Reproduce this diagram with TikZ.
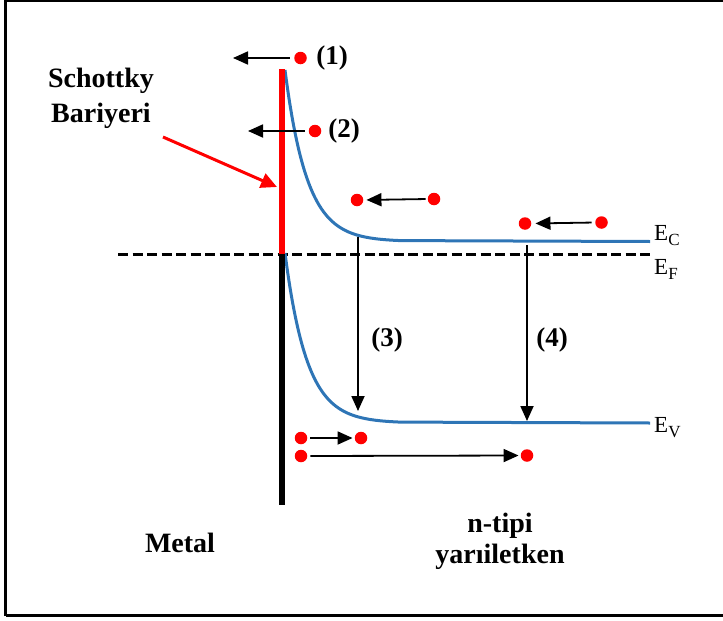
\documentclass[tikz,border=0pt]{standalone}
\usepackage{fontspec}
\setmainfont{Liberation Serif}
\usetikzlibrary{arrows.meta}
\definecolor{bandblue}{RGB}{46,117,182}
\begin{document}
\begin{tikzpicture}[x=1pt,y=-1pt,
  dot/.style={circle,fill=red,inner sep=0pt,minimum size=12.5pt},
  arr/.style={line width=1.8pt,-{Triangle[length=15pt,width=13pt]}},
  redarr/.style={red,line width=3pt,-{Triangle[length=16pt,width=15pt]}},
  band/.style={bandblue,line width=3pt},
  lbl/.style={font=\fontsize{27}{32}\selectfont\bfseries,inner sep=0pt},
  big/.style={font=\fontsize{28}{34}\selectfont\bfseries,inner sep=0pt,anchor=base},
  elab/.style={font=\fontsize{23}{26}\selectfont,inner sep=0pt,anchor=base west},
  sub/.style={}]
\useasboundingbox (0,0) rectangle (723,621);
% frame
\draw[line width=2.5pt] (5.5,616) -- (5.5,1) -- (723,1);
\draw[line width=2.5pt] (5.5,615.5) -- (723,615.5);
% Fermi level
\draw[line width=3pt,dash pattern=on 10pt off 4.5pt] (118,254) -- (650,254);
% bands
\draw[band] plot[domain=0:115,samples=90] ({285+\x},{241.5-171.5*exp(-\x/22)}) -- (650,241.5);
\draw[band] plot[domain=0:115,samples=90] ({285+\x},{423-170*exp(-\x/22)}) -- (650,423);
% interface bar
\draw[red,line width=6.5pt] (282,69) -- (282,254);
\draw[line width=6.5pt] (282,254) -- (282,505);
% band labels
\node[elab] (ec) at (654,240) {E\raisebox{-5pt}{\fontsize{17}{17}\selectfont C}};
\node[elab] (ef) at (654,274) {E\raisebox{-5pt}{\fontsize{17}{17}\selectfont F}};
\node[elab] (ev) at (654,432) {E\raisebox{-5pt}{\fontsize{17}{17}\selectfont V}};
% electrons
\node[dot] (d1) at (300.5,58) {};
\node[dot] (d2) at (315,131) {};
\node[dot] (d3) at (357,200) {};
\node[dot] (d4) at (434,199) {};
\node[dot] (d5) at (525,223.5) {};
\node[dot] (d6) at (601.5,222.5) {};
\node[dot] (d7) at (301,438) {};
\node[dot] (d8) at (361,438) {};
\node[dot] (d9) at (301,456) {};
\node[dot] (d10) at (527,455.5) {};
\coordinate (t1) at (233,58);
\coordinate (t2) at (248,131);
% horizontal arrows
\draw[arr,shorten <=4.5pt] (d1.west) -- (t1);
\draw[arr,shorten <=4pt] (d2.west) -- (t2);
\draw[arr,shorten <=2pt,shorten >=3pt] (d4.west) -- (d3.east);
\draw[arr,shorten <=3.5pt,shorten >=4pt] (d6.west) -- (d5.east);
\draw[arr,shorten <=3pt,shorten >=2pt] (d7.east) -- (d8.west);
\draw[arr,shorten <=3pt,shorten >=2pt] (d9.east) -- (d10.west);
% vertical arrows
\coordinate (v3a) at (358,237);
\coordinate (v3b) at (358,411);
\coordinate (v4a) at (527,245);
\coordinate (v4b) at (527,421);
\draw[arr] (v3a) -- (v3b);
\draw[arr] (v4a) -- (v4b);
% process labels
\node[lbl] (l1) at (332,58) {(1)};
\node[lbl] (l2) at (344,131) {(2)};
\node[lbl] (l3) at (387,340) {(3)};
\node[lbl] (l4) at (552,340) {(4)};
% Schottky label
\node[big] (sch1) at (101,87) {Schottky};
\node[big] (sch2) at (101,122) {Bariyeri};
\coordinate (rs) at (163,137);
\coordinate (rt) at (277,187);
\draw[redarr] (rs) -- (rt);
% region labels
\node[big] (metal) at (180,552) {Metal};
\node[big] (nt1) at (500,532) {n-tipi};
\node[big] (nt2) at (500,563) {yarıiletken};
\end{tikzpicture}
\end{document}
